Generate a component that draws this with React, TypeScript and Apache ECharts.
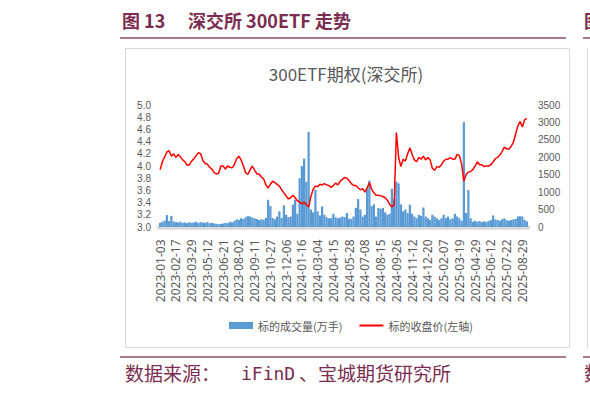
import React, { useEffect, useRef } from "react";
import * as echarts from "echarts";

// Exchange closures (weekdays) used to list the trading days on the category axis
const HOLIDAYS = [
  "2023-01-02", "2023-01-23", "2023-01-24", "2023-01-25", "2023-01-26", "2023-01-27",
  "2023-04-05", "2023-05-01", "2023-05-02", "2023-05-03", "2023-06-22", "2023-06-23",
  "2023-09-29", "2023-10-02", "2023-10-03", "2023-10-04", "2023-10-05", "2023-10-06",
  "2024-01-01", "2024-02-09", "2024-02-12", "2024-02-13", "2024-02-14", "2024-02-15",
  "2024-02-16", "2024-04-04", "2024-04-05", "2024-05-01", "2024-05-02", "2024-05-03",
  "2024-06-10", "2024-09-16", "2024-09-17", "2024-10-01", "2024-10-02", "2024-10-03",
  "2024-10-04", "2024-10-07",
  "2025-01-01", "2025-01-28", "2025-01-29", "2025-01-30", "2025-01-31", "2025-02-03",
  "2025-02-04", "2025-04-04", "2025-05-01", "2025-05-02", "2025-05-05", "2025-06-02",
];
const FIRST_DAY = "2023-01-03";
const LAST_DAY = "2025-09-12";
const SAMPLE_STEP = 4; // one point every 4 trading days

const tickLabels = [
  "2023-01-03", "2023-02-17", "2023-03-29", "2023-05-12", "2023-06-21", "2023-08-02",
  "2023-09-11", "2023-10-27", "2023-12-06", "2024-01-16", "2024-03-04", "2024-04-15",
  "2024-05-28", "2024-07-08", "2024-08-15", "2024-09-26", "2024-11-12", "2024-12-20",
  "2025-02-07", "2025-03-19", "2025-04-29", "2025-06-12", "2025-07-22", "2025-08-29",
];

// 标的收盘价 (left axis)
const closePrice = [
  3.94, 4.07, 4.15, 4.23, 4.25, 4.16, 4.20, 4.14, 4.19, 4.15,
  4.10, 4.07, 4.01, 4.02, 4.08, 4.12, 4.17, 4.22, 4.20, 4.09,
  4.04, 4.03, 3.98, 3.95, 3.89, 3.87, 3.88, 4.00, 4.00, 3.95,
  4.00, 3.98, 3.97, 4.02, 4.12, 4.16, 4.10, 4.00, 3.89, 3.86,
  3.94, 4.00, 3.93, 3.87, 3.87, 3.82, 3.79, 3.69, 3.64, 3.70,
  3.75, 3.73, 3.70, 3.67, 3.61, 3.56, 3.51, 3.46, 3.48, 3.52,
  3.48, 3.43, 3.41, 3.38, 3.41, 3.36, 3.33, 3.50, 3.62, 3.67,
  3.66, 3.70, 3.69, 3.71, 3.69, 3.68, 3.65, 3.68, 3.72, 3.69,
  3.75, 3.78, 3.81, 3.80, 3.76, 3.71, 3.68, 3.68, 3.64, 3.61,
  3.63, 3.57, 3.64, 3.73, 3.62, 3.56, 3.52, 3.52, 3.51, 3.50,
  3.48, 3.44, 3.37, 3.33, 3.36, 4.55, 4.14, 3.99, 4.11, 4.08,
  4.20, 4.30, 4.19, 4.10, 4.07, 4.14, 4.11, 4.16, 4.10, 4.14,
  4.10, 3.96, 3.93, 3.99, 3.98, 4.02, 4.08, 4.11, 4.11, 4.14,
  4.11, 4.11, 4.19, 4.17, 4.03, 3.75, 3.86, 3.90, 3.91, 3.94,
  4.00, 4.07, 4.02, 4.02, 3.99, 4.00, 4.00, 4.02, 4.07, 4.12,
  4.14, 4.18, 4.24, 4.31, 4.28, 4.28, 4.32, 4.39, 4.52, 4.66,
  4.73, 4.64, 4.76, 4.78,
];

// 标的成交量 (万手, right axis)
const volume = [
  120, 150, 180, 340, 170, 320, 160, 140, 130, 150,
  120, 130, 110, 140, 120, 130, 150, 120, 140, 130,
  120, 140, 110, 120, 100, 90, 80, 90, 100, 120,
  110, 150, 130, 170, 220, 200, 250, 230, 280, 320,
  300, 270, 250, 230, 200, 220, 210, 260, 780, 600,
  260, 220, 300, 450, 260, 620, 350, 280, 300, 640,
  780, 380, 1400, 1750, 1960, 1300, 2730, 500, 420, 1070,
  450, 330, 590, 350, 280, 250, 260, 380, 280, 250,
  270, 300, 280, 400, 240, 230, 300, 550, 800, 500,
  300, 350, 1100, 1330, 600, 650, 300, 545, 520, 550,
  420, 350, 380, 1100, 800, 1300, 1250, 650, 450, 500,
  400, 640, 380, 300, 250, 350, 320, 560, 300, 250,
  200, 350, 300, 250, 200, 250, 350, 250, 300, 220,
  250, 380, 300, 250, 180, 3010, 400, 1060, 250, 150,
  180, 150, 170, 140, 160, 150, 170, 200, 330, 220,
  200, 180, 220, 250, 200, 180, 200, 220, 230, 300,
  310, 300, 200, 160,
];

const leftTicks = { min: 3, max: 5, step: 0.2 };
const rightTicks = { min: 0, max: 3500, step: 500 };

function buildTradingDays(start: string, end: string): string[] {
  const closed = new Set(HOLIDAYS);
  const out: string[] = [];
  const d = new Date(start + "T00:00:00Z");
  const e = new Date(end + "T00:00:00Z");
  while (d.getTime() <= e.getTime()) {
    const wd = d.getUTCDay();
    const s = d.toISOString().slice(0, 10);
    if (wd !== 0 && wd !== 6 && !closed.has(s)) out.push(s);
    d.setUTCDate(d.getUTCDate() + 1);
  }
  return out;
}

const MAROON = "#7b2c50";
const MAROON_LINE = "#8e4a6b";
const GREY_TEXT = "#595959";
const CJK = "'Noto Sans CJK SC', 'Noto Sans', sans-serif";
const AXIS_FONT = "'Noto Sans', 'Noto Sans CJK SC', sans-serif";
const VALUE_FONT = "'Liberation Sans', Arial, sans-serif";

export default function App() {
  const ref = useRef<HTMLDivElement>(null);

  useEffect(() => {
    if (!ref.current) return;
    const chart = echarts.init(ref.current, null, { renderer: "svg" });
    const days = buildTradingDays(FIRST_DAY, LAST_DAY);
    const categories = days
      .filter((_, i) => i % SAMPLE_STEP === 0)
      .slice(0, closePrice.length);
    const tickSet = new Set(tickLabels);

    chart.setOption({
      animation: false,
      backgroundColor: "#ffffff",
      textStyle: { fontFamily: AXIS_FONT },
      grid: { left: 159, right: 62, top: 105, bottom: 167, containLabel: false },
      legend: {
        left: 229,
        top: 320,
        padding: 0,
        itemWidth: 24,
        itemHeight: 7,
        itemGap: 17,
        textStyle: { fontSize: 11, color: GREY_TEXT, fontFamily: CJK },
        data: [
          { name: "标的成交量(万手)", icon: "rect" },
          { name: "标的收盘价(左轴)", icon: "path://M0,0L24,0L24,2L0,2Z" },
        ],
      },
      xAxis: {
        type: "category",
        data: categories,
        boundaryGap: true,
        offset: 2.5,
        axisLine: { show: true, lineStyle: { color: "#d9d9d9", width: 4.5 } },
        axisTick: { show: false },
        axisLabel: {
          rotate: 90,
          interval: (_idx: number, val: string) => tickSet.has(val),
          fontSize: 12,
          lineHeight: 13,
          color: GREY_TEXT,
          margin: 10,
        },
        splitLine: { show: false },
      },
      yAxis: [
        {
          type: "value",
          position: "left",
          min: leftTicks.min,
          max: leftTicks.max,
          interval: leftTicks.step,
          axisLine: { show: false },
          axisTick: { show: false },
          splitLine: { show: false },
          axisLabel: {
            fontSize: 10,
            lineHeight: 11,
            fontFamily: VALUE_FONT,
            color: GREY_TEXT,
            margin: 8,
            formatter: (v: number) => v.toFixed(1),
          },
        },
        {
          type: "value",
          position: "right",
          min: rightTicks.min,
          max: rightTicks.max,
          interval: rightTicks.step,
          axisLine: { show: false },
          axisTick: { show: false },
          splitLine: { show: false },
          axisLabel: {
            fontSize: 10,
            lineHeight: 11,
            fontFamily: VALUE_FONT,
            color: GREY_TEXT,
            margin: 10,
            formatter: (v: number) => String(v),
          },
        },
      ],
      series: [
        {
          name: "标的成交量(万手)",
          type: "bar",
          yAxisIndex: 1,
          data: volume,
          barCategoryGap: "0%",
          barGap: "0%",
          itemStyle: { color: "#5b9bd5" },
          z: 2,
        },
        {
          name: "标的收盘价(左轴)",
          type: "line",
          yAxisIndex: 0,
          data: closePrice,
          symbol: "none",
          lineStyle: { color: "#ff0000", width: 1.5 },
          itemStyle: { color: "#ff0000" },
          z: 3,
        },
      ],
      graphic: [
        {
          type: "text",
          left: 122,
          top: 11,
          style: { text: "图 13", fontSize: 18, fontWeight: "bold", fill: MAROON, fontFamily: CJK },
        },
        {
          type: "text",
          left: 188,
          top: 11,
          style: { text: "深交所 300ETF 走势", fontSize: 18, fontWeight: "bold", fill: MAROON, fontFamily: CJK },
        },
        {
          type: "line",
          shape: { x1: 120, y1: 38, x2: 566, y2: 38 },
          style: { stroke: MAROON_LINE, lineWidth: 1.5 },
        },
        {
          type: "rect",
          shape: { x: 125.5, y: 48.5, width: 444, height: 299 },
          style: { fill: "none", stroke: "#d9d9d9", lineWidth: 1 },
        },
        {
          type: "text",
          x: 346,
          y: 73,
          style: {
            text: "300ETF期权(深交所)",
            fontSize: 17,
            fill: GREY_TEXT,
            fontFamily: CJK,
            textAlign: "center",
            textVerticalAlign: "middle",
          },
        },
        {
          type: "line",
          shape: { x1: 120, y1: 357, x2: 566, y2: 357 },
          style: { stroke: MAROON_LINE, lineWidth: 1.5 },
        },
        {
          type: "text",
          left: 125,
          top: 363,
          style: { text: "数据来源：", fontSize: 19, fill: MAROON, fontFamily: CJK },
        },
        {
          type: "text",
          left: 241,
          top: 364,
          style: { text: "iFinD", fontSize: 18, fill: MAROON, fontFamily: "'DejaVu Sans Mono', monospace" },
        },
        {
          type: "text",
          left: 299,
          top: 363,
          style: { text: "、宝城期货研究所", fontSize: 19, fill: MAROON, fontFamily: CJK },
        },
        // edge of the neighbouring panel
        {
          type: "line",
          shape: { x1: 583, y1: 38, x2: 592, y2: 38 },
          style: { stroke: MAROON_LINE, lineWidth: 1.5 },
        },
        {
          type: "line",
          shape: { x1: 583, y1: 357, x2: 592, y2: 357 },
          style: { stroke: MAROON_LINE, lineWidth: 1.5 },
        },
        {
          type: "line",
          shape: { x1: 587.5, y1: 48, x2: 587.5, y2: 348 },
          style: { stroke: "#d9d9d9", lineWidth: 1 },
        },
        {
          type: "text",
          x: 584,
          y: 11,
          style: { text: "图", fontSize: 18, fontWeight: "bold", fill: MAROON, fontFamily: CJK },
        },
        {
          type: "text",
          x: 584,
          y: 363,
          style: { text: "数", fontSize: 19, fill: MAROON, fontFamily: CJK },
        },
      ],
    });

    return () => chart.dispose();
  }, []);

  return (
    <div
      ref={ref}
      style={{ position: "absolute", left: 0, top: 0, width: 590, height: 394, background: "#fff" }}
    />
  );
}
